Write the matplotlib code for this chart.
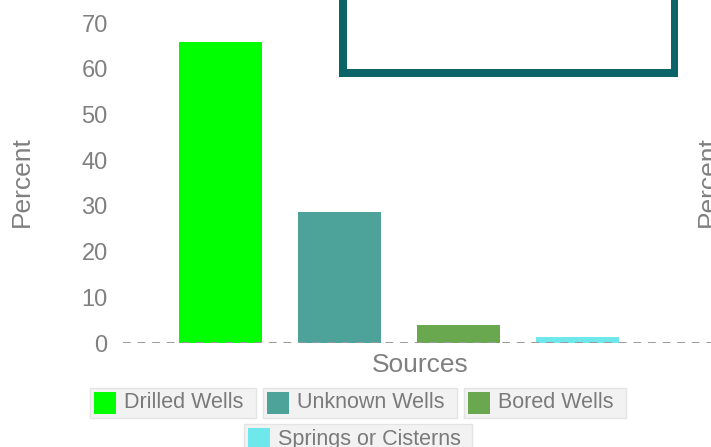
import matplotlib
matplotlib.use("Agg")
import matplotlib.pyplot as plt
from matplotlib.patches import Rectangle

# ----------------------------------------------------------------------------
# Data
series = ["Drilled Wells", "Unknown Wells", "Bored Wells", "Springs or Cisterns"]
values = [65.8, 28.7, 3.9, 1.3]
colors = ["#00ff00", "#4da39a", "#6aa84f", "#6fe8ec"]
yticks = [0, 10, 20, 30, 40, 50, 60, 70]
xlabel = "Sources"
ylabel = "Percent"

W, H = 711, 447
grey = "#808080"
plt.rcParams["font.family"] = ["Liberation Sans", "DejaVu Sans"]


def px_rect(x0, y0, x1, y1, **kw):
    # rectangle given in picture pixels from the top-left corner
    return Rectangle((x0 / W, 1 - y1 / H), (x1 - x0) / W, (y1 - y0) / H,
                     transform=fig.transFigure, **kw)


# ----------------------------------------------------------------------------
fig = plt.figure(figsize=(W / 100, H / 100), dpi=100)
ax = fig.add_axes([123 / W, 104 / H, 588 / W, 320 / H])

xs = list(range(len(series)))
ax.bar(xs, values, width=0.7, color=colors, zorder=2)
ax.axhline(0, color="#999999", lw=1.4, ls=(0, (4, 3.5)), zorder=3)

ax.set_xlim(-0.82, 4.12)
ax.set_ylim(0, 70)
ax.set_yticks(yticks)
ax.set_xticks([])
ax.tick_params(axis="y", length=0, pad=11, labelsize=17, labelcolor=grey)
for s in ax.spines.values():
    s.set_visible(False)

fig.text(22 / W, 1 - 182 / H, ylabel, rotation=90, ha="center", va="center",
         fontsize=19, color=grey)
fig.text(708 / W, 1 - 182 / H, ylabel, rotation=90, ha="center", va="center",
         fontsize=19, color=grey)
fig.text(420 / W, 1 - 365 / H, xlabel, ha="center", va="center",
         fontsize=19, color=grey)

# teal box at the top (cut off by the frame)
fig.patches.append(px_rect(339, -20, 678, 77, facecolor="#0b6467",
                           edgecolor="none"))
fig.patches.append(px_rect(347, -20, 670.5, 68.5, facecolor="white",
                           edgecolor="none"))

# legend, drawn as separate boxes like the original
fig.canvas.draw()
renderer = fig.canvas.get_renderer()
widths = []
for name in series:
    t = fig.text(0, 0, name, fontsize=15.5)
    widths.append(t.get_window_extent(renderer).width + 46)
    t.remove()

rows = [[0, 1, 2], [3]]
row_tops = [388, 424]
gap = 7.5
cx = 358
for row, top in zip(rows, row_tops):
    total = sum(widths[i] for i in row) + gap * (len(row) - 1)
    left = cx - total / 2
    for i in row:
        w = widths[i]
        fig.patches.append(px_rect(left, top, left + w, top + 30,
                                   facecolor="#f2f2f2", edgecolor="#e4e4e4",
                                   lw=1))
        fig.patches.append(px_rect(left + 4, top + 4, left + 26, top + 26,
                                   facecolor=colors[i], edgecolor="none"))
        fig.text((left + 34) / W, 1 - (top + 15) / H, series[i],
                 ha="left", va="center", fontsize=15.5, color="#7a7a7a")
        left += w + gap

fig.savefig("out.png", dpi=100)
